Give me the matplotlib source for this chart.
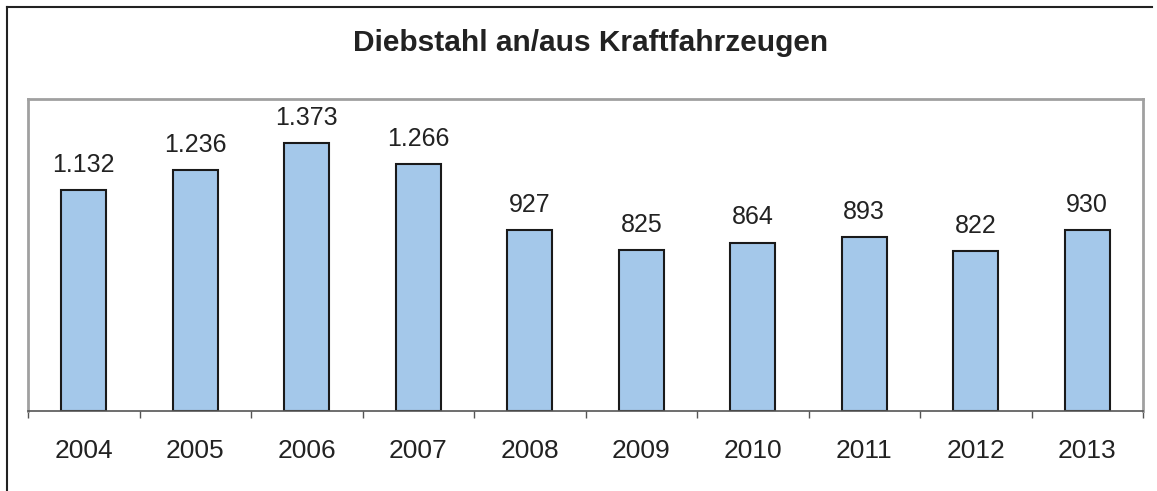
import matplotlib

matplotlib.use("Agg")
import matplotlib.pyplot as plt
from matplotlib.lines import Line2D

plt.rcParams["font.family"] = ["Liberation Sans", "DejaVu Sans"]

years = ["2004", "2005", "2006", "2007", "2008", "2009", "2010", "2011", "2012", "2013"]
cases = [1132, 1236, 1373, 1266, 927, 825, 864, 893, 822, 930]

W, H = 1157, 491
fig = plt.figure(figsize=(W / 100, H / 100), dpi=100)
ax = fig.add_axes([28 / W, 1 - 411 / H, (1143 - 28) / W, (411 - 99) / H])

xs = range(len(years))
ax.bar(xs, cases, width=0.4, color="#A4C8EA", edgecolor="#1a1a1a", linewidth=1.5, zorder=2)
for x, v in zip(xs, cases):
    ax.annotate(f"{v:,}".replace(",", "."), (x, v), xytext=(0, 13), textcoords="offset points",
                ha="center", va="baseline", fontsize=18, color="#222222")

ax.set_xlim(-0.5, len(years) - 0.5)
ax.set_ylim(0, 1600)
ax.set_yticks([])
ax.set_xticks([i - 0.5 for i in range(len(years) + 1)], minor=False)
ax.set_xticklabels([])
ax.set_xticks(list(xs), minor=True)
ax.set_xticklabels(years, minor=True, fontsize=19, color="#222222")
ax.tick_params(axis="x", which="major", length=5, width=1, color="#555555", direction="out")
ax.tick_params(axis="x", which="minor", length=0, pad=20)

for side in ("left", "top", "right"):
    ax.spines[side].set_color("#a0a0a0")
    ax.spines[side].set_linewidth(2)
ax.spines["bottom"].set_color("#555555")
ax.spines["bottom"].set_linewidth(1.2)

fig.text(591 / W, 1 - 43 / H, "Diebstahl an/aus Kraftfahrzeugen", ha="center", va="center",
         fontsize=21.5, fontweight="bold", color="#222222")

# outer frame: left and top only
fig.add_artist(Line2D([7 / W, 7 / W], [0, 1 - 7 / H], color="#222222", lw=1.5))
fig.add_artist(Line2D([7 / W, 1152 / W], [1 - 7 / H, 1 - 7 / H], color="#222222", lw=1.5))

fig.savefig("out.png", dpi=100)
